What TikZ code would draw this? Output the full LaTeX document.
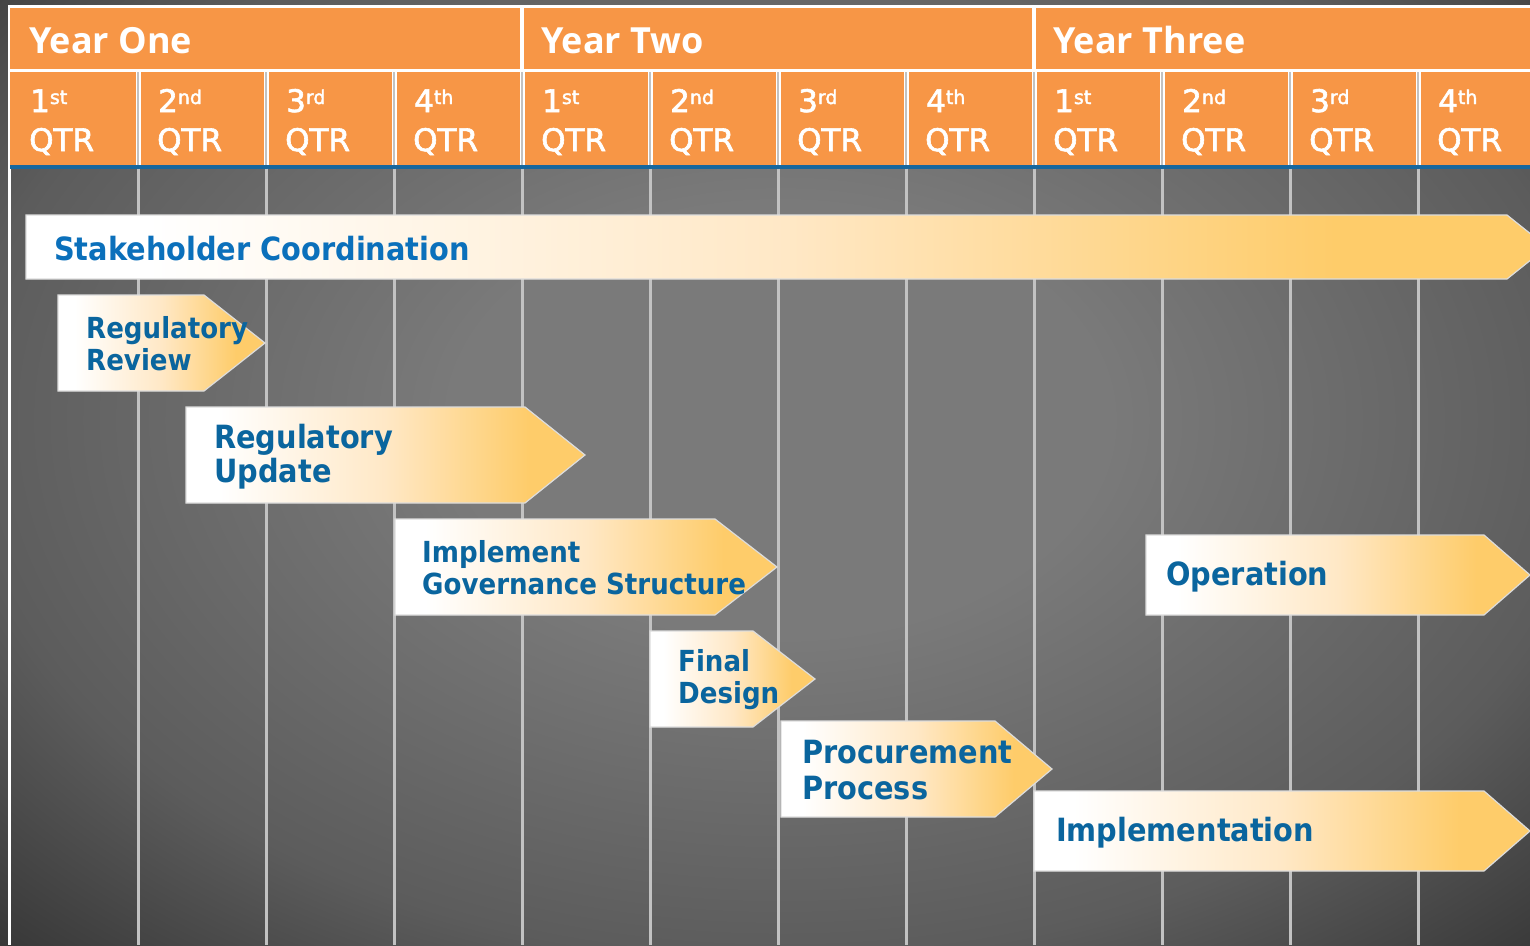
\documentclass[tikz,border=0pt]{standalone}
\usepackage{fontspec}
\newfontfamily\yrfont{Open Sans}
\newfontfamily\bxfont[FakeStretch=0.9]{DejaVu Sans}
\newfontfamily\qfont[FakeBold=2]{DejaVu Sans}
\definecolor{hdr}{HTML}{F79646}
\definecolor{hdrblue}{HTML}{17679E}
\definecolor{divgrey}{HTML}{C2C2C2}
\definecolor{boxpeach}{HTML}{FFE8C6}
\definecolor{boxgold}{HTML}{FECC6A}
\definecolor{boxedge}{HTML}{DCDCDC}
\definecolor{txtblue}{HTML}{0A659E}
\definecolor{txtblue2}{HTML}{0B70BB}
\definecolor{bgc}{HTML}{7A7A7A}
\definecolor{bgm}{HTML}{5C5C5C}
\definecolor{bgd}{HTML}{303030}
\pgfdeclarehorizontalshading{boxgrad}{100bp}{color(0bp)=(white); color(29bp)=(white); color(50bp)=(boxpeach); color(68bp)=(boxgold); color(100bp)=(boxgold)}
\pgfdeclareradialshading{bgshade}{\pgfpoint{0bp}{0bp}}{color(0bp)=(bgc); color(10bp)=(bgc); color(25bp)=(bgm); color(36bp)=(bgd); color(50bp)=(bgd)}
\tikzset{
  yeartxt/.style={anchor=base west, inner sep=0pt, text=white, font=\yrfont\bfseries\fontsize{36}{40}\selectfont},
  qnum/.style={anchor=base west, inner sep=0pt, text=white, font=\qfont\fontsize{31}{34}\selectfont},
  qtr/.style={anchor=base west, inner sep=0pt, text=white, font=\qfont\fontsize{31}{34}\selectfont},
  arrowbox/.style={shading=boxgrad, draw=boxedge, line width=1.2pt},
  boxtxt/.style={anchor=west, inner sep=0pt, align=left, text=txtblue, font=\bxfont\bfseries},
  bodyline/.style={draw=divgrey, line width=3pt},
}
\newcommand{\qsup}[1]{\raisebox{8pt}{\fontsize{19}{19}\selectfont #1}}
\begin{document}
\begin{tikzpicture}[x=1pt,y=-1pt]
\useasboundingbox (0,0) rectangle (1530,945);
\clip (0,0) rectangle (1530,945);
% background
\shade[shading=bgshade] (-40,-120) rectangle (1600,960);
% header base
\fill[white] (8,5) rectangle (1530,168);
\fill[white] (8,5) rectangle (11,945);
% year cells
\fill[hdr] (10,8) rectangle (520,69);
\fill[hdr] (523.5,8) rectangle (1032,69);
\fill[hdr] (1035.5,8) rectangle (1530,69);
% quarter cells
\foreach \k in {0,...,11}{
  \pgfmathsetmacro{\xl}{\k==0 ? 10 : 138+128*(\k-1)+2.5}
  \pgfmathsetmacro{\xr}{138+128*\k-2.5}
  \fill[hdr] (\xl,72) rectangle (\xr,165);
}
\foreach \k in {0,...,10}{
  \draw[divgrey, line width=2.5pt] (138+128*\k,72) -- (138+128*\k,165);
}
\fill[hdrblue] (10,164.5) rectangle (1530,168.5);
% body dividers
\foreach \k in {0,...,10}{
  \draw[bodyline] (138+128*\k,168.5) -- (138+128*\k,945);
}
% header texts
\node[yeartxt] (y1) at (29,53) {Year One};
\node[yeartxt] (y2) at (541,53) {Year Two};
\node[yeartxt] (y3) at (1053,53) {Year Three};
\foreach \k/\n/\s in {0/1/st,1/2/nd,2/3/rd,3/4/th,4/1/st,5/2/nd,6/3/rd,7/4/th,8/1/st,9/2/nd,10/3/rd,11/4/th}{
  \node[qnum] (qn\k) at (30+128*\k,112) {\n\qsup{\s}};
  \node[qtr] (qt\k) at (29+128*\k,151) {QTR};
}
% arrows
\shadedraw[arrowbox] (26,215) -- (1507,215) -- (1547,247) -- (1507,279) -- (26,279) -- cycle;
\node[boxtxt, text=txtblue2, font=\bxfont\bfseries\fontsize{32}{36}\selectfont] (stake) at (54,249) {Stakeholder Coordination};

\shadedraw[arrowbox] (58,295) -- (204,295) -- (265,343) -- (204,391) -- (58,391) -- cycle;
\node[boxtxt, font=\bxfont\bfseries\fontsize{29}{32}\selectfont] (rrev) at (86,344) {Regulatory\\Review};

\shadedraw[arrowbox] (186,407) -- (525,407) -- (585,455) -- (525,503) -- (186,503) -- cycle;
\node[boxtxt, font=\bxfont\bfseries\fontsize{32}{34}\selectfont] (rupd) at (214,457) {Regulatory\\Update};

\shadedraw[arrowbox] (395,519) -- (715,519) -- (777,567) -- (715,615) -- (395,615) -- cycle;
\node[boxtxt, font=\bxfont\bfseries\fontsize{29}{32}\selectfont] (impl) at (422,568) {Implement\\Governance Structure};

\shadedraw[arrowbox] (650,631) -- (753,631) -- (815,679) -- (753,727) -- (650,727) -- cycle;
\node[boxtxt, font=\bxfont\bfseries\fontsize{29}{32}\selectfont] (fdes) at (678,680) {Final\\Design};

\shadedraw[arrowbox] (781,721) -- (995,721) -- (1052,769) -- (995,817) -- (781,817) -- cycle;
\node[boxtxt, font=\bxfont\bfseries\fontsize{32}{36}\selectfont] (proc) at (802,770) {Procurement\\Process};

\shadedraw[arrowbox] (1146,535) -- (1484,535) -- (1530,575) -- (1484,615) -- (1146,615) -- cycle;
\node[boxtxt, font=\bxfont\bfseries\fontsize{32}{36}\selectfont] (oper) at (1166,577) {Operation};

\shadedraw[arrowbox] (1034,791) -- (1484,791) -- (1530,831) -- (1484,871) -- (1034,871) -- cycle;
\node[boxtxt, font=\bxfont\bfseries\fontsize{32}{36}\selectfont] (implm) at (1056,833) {Implementation};
\end{tikzpicture}
\end{document}
